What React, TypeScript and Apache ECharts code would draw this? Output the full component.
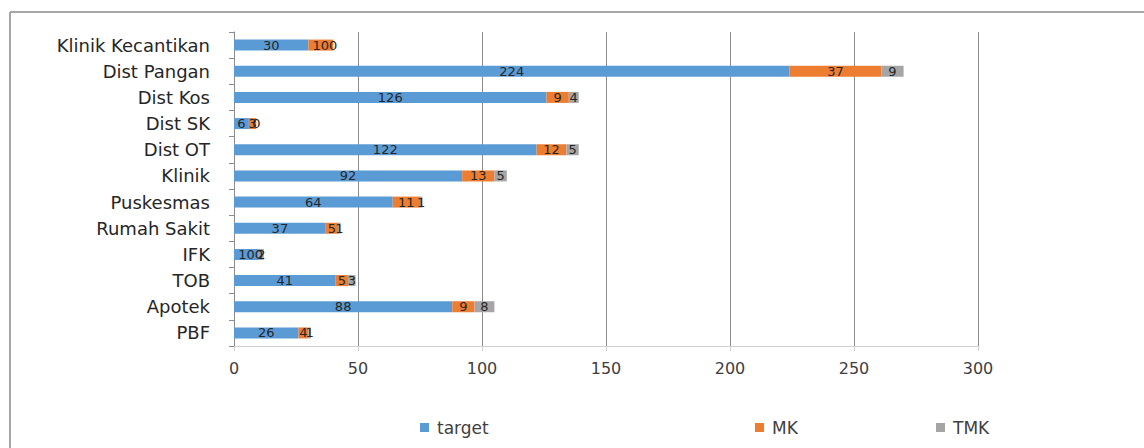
import React, { useEffect, useRef } from "react";
import * as echarts from "echarts";

const categories = [
  "Klinik Kecantikan",
  "Dist Pangan",
  "Dist Kos",
  "Dist SK",
  "Dist OT",
  "Klinik",
  "Puskesmas",
  "Rumah Sakit",
  "IFK",
  "TOB",
  "Apotek",
  "PBF",
];
const targetValues = [30, 224, 126, 6, 122, 92, 64, 37, 10, 41, 88, 26];
const mkValues = [10, 37, 9, 3, 12, 13, 11, 5, 0, 5, 9, 4];
const tmkValues = [0, 9, 4, 0, 5, 5, 1, 1, 2, 3, 8, 1];
const xTicks = [0, 300, 50];

const FONT = "DejaVu Sans";

export default function App() {
  const ref = useRef<HTMLDivElement>(null);
  useEffect(() => {
    if (!ref.current) return;
    const chart = echarts.init(ref.current, undefined, { renderer: "svg" });
    const label = {
      show: true,
      position: "inside" as const,
      color: "#262626",
      fontFamily: FONT,
      fontSize: 13,
    };
    const mkSeries = (name: string, data: number[], color: string) => ({
      name,
      type: "bar" as const,
      stack: "total",
      data,
      barWidth: 11,
      itemStyle: { color },
      label,
    });
    const legendText = {
      color: "#404040",
      fontFamily: FONT,
      fontSize: 17,
      padding: [0, 0, 0, 3],
    };
    chart.setOption({
      animation: false,
      backgroundColor: "#ffffff",
      graphic: [
        {
          type: "line",
          shape: { x1: 10, y1: 12, x2: 10, y2: 448 },
          style: { stroke: "#a6a6a6", lineWidth: 2 },
          silent: true,
        },
        {
          type: "line",
          shape: { x1: 10, y1: 12, x2: 1144, y2: 12 },
          style: { stroke: "#a6a6a6", lineWidth: 2 },
          silent: true,
        },
      ],
      grid: { left: 234, right: 166, top: 32, bottom: 102, containLabel: false },
      xAxis: {
        type: "value",
        min: xTicks[0],
        max: xTicks[1],
        interval: xTicks[2],
        axisLine: { show: true, lineStyle: { color: "#d0d0d0", width: 1 } },
        axisTick: { show: true, length: 5, lineStyle: { color: "#d0d0d0" } },
        splitLine: { show: true, lineStyle: { color: "#8c8c8c", width: 1 } },
        axisLabel: { color: "#404040", fontFamily: FONT, fontSize: 16, margin: 14 },
      },
      yAxis: {
        type: "category",
        inverse: true,
        data: categories,
        axisLine: { show: true, lineStyle: { color: "#8c8c8c", width: 1 } },
        axisTick: { show: true, length: 5, lineStyle: { color: "#8c8c8c" } },
        axisLabel: { color: "#262626", fontFamily: FONT, fontSize: 18, margin: 24 },
      },
      legend: [
        {
          data: ["target"],
          left: 415,
          top: 414,
          itemWidth: 9,
          itemHeight: 9,
          icon: "rect",
          textStyle: legendText,
        },
        {
          data: ["MK"],
          left: 750,
          top: 414,
          itemWidth: 9,
          itemHeight: 9,
          icon: "rect",
          textStyle: legendText,
        },
        {
          data: ["TMK"],
          left: 931,
          top: 414,
          itemWidth: 9,
          itemHeight: 9,
          icon: "rect",
          textStyle: legendText,
        },
      ],
      series: [
        mkSeries("target", targetValues, "#5b9bd5"),
        mkSeries("MK", mkValues, "#ed7d31"),
        mkSeries("TMK", tmkValues, "#a5a5a5"),
      ],
    });
    return () => chart.dispose();
  }, []);
  return (
    <div
      ref={ref}
      style={{ position: "absolute", left: 0, top: 0, width: 1144, height: 448 }}
    />
  );
}
